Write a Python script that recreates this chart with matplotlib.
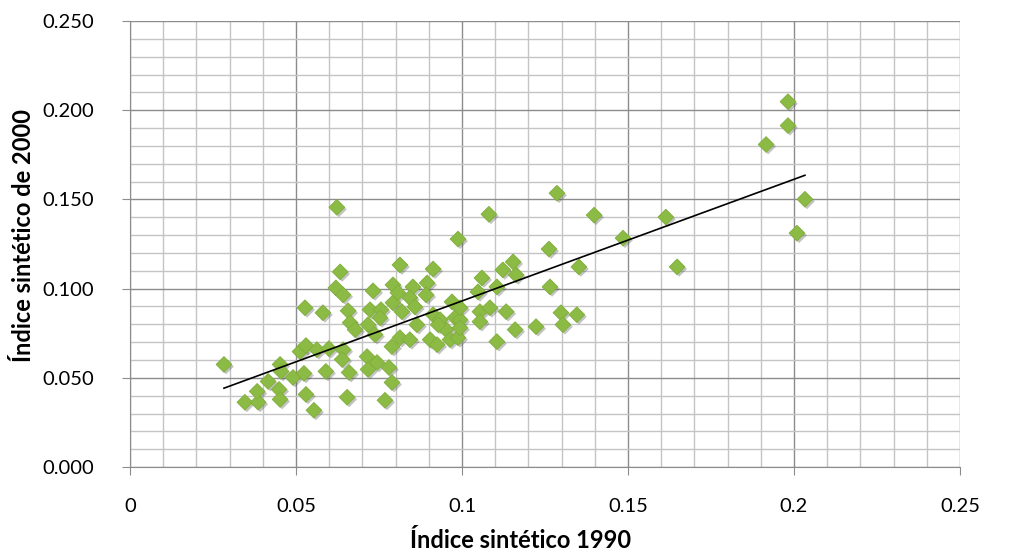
import numpy as np
import matplotlib
matplotlib.use("Agg")
import matplotlib.pyplot as plt
import matplotlib.patheffects as pe
from matplotlib.ticker import MultipleLocator

# indice sintetico por unidad: 1990 (x) frente a 2000 (y)
idx_1990 = [
    0.0283, 0.0346, 0.0386, 0.0383, 0.0416, 0.0449, 0.0452, 0.0452, 0.0455, 0.0491,
    0.0524, 0.0530, 0.0554, 0.0512, 0.0530, 0.0563, 0.0599, 0.0590, 0.0527, 0.0581,
    0.0620, 0.0642, 0.0639, 0.0654, 0.0633, 0.0813, 0.0913, 0.0732, 0.0792, 0.0852,
    0.0895, 0.0892, 0.0642, 0.0657, 0.0723, 0.0756, 0.0792, 0.0819, 0.0843, 0.0858,
    0.0807, 0.0663, 0.0678, 0.0717, 0.0753, 0.0738, 0.0789, 0.0813, 0.0843, 0.0864,
    0.0904, 0.0925, 0.0913, 0.0934, 0.0952, 0.0970, 0.0979, 0.0994, 0.0964, 0.0988,
    0.0994, 0.0994, 0.1048, 0.1060, 0.1054, 0.1054, 0.1084, 0.1105, 0.1133, 0.1123,
    0.1154, 0.1105, 0.1160, 0.0714, 0.0744, 0.0717, 0.0780, 0.0660, 0.0789, 0.0768,
    0.0928, 0.1286, 0.1081, 0.1398, 0.0988, 0.1485, 0.1262, 0.1163, 0.1352, 0.1265,
    0.1298, 0.1346, 0.1304, 0.1223, 0.1614, 0.1648, 0.2033, 0.2009, 0.1982, 0.1982,
    0.1916, 0.0623,
]
idx_2000 = [
    0.0575, 0.0363, 0.0363, 0.0424, 0.0480, 0.0435, 0.0379, 0.0575, 0.0536, 0.0502,
    0.0525, 0.0407, 0.0318, 0.0647, 0.0681, 0.0658, 0.0664, 0.0536, 0.0893, 0.0865,
    0.1004, 0.0658, 0.0603, 0.0391, 0.1094, 0.1133, 0.1110, 0.0988, 0.1021, 0.1010,
    0.1032, 0.0965, 0.0965, 0.0876, 0.0882, 0.0882, 0.0921, 0.0871, 0.0949, 0.0898,
    0.0977, 0.0809, 0.0770, 0.0798, 0.0837, 0.0742, 0.0675, 0.0725, 0.0714, 0.0798,
    0.0714, 0.0686, 0.0854, 0.0826, 0.0770, 0.0926, 0.0837, 0.0826, 0.0714, 0.0725,
    0.0781, 0.0893, 0.0982, 0.1060, 0.0871, 0.0815, 0.0893, 0.0703, 0.0871, 0.1105,
    0.1150, 0.1010, 0.0770, 0.0619, 0.0586, 0.0547, 0.0558, 0.0530, 0.0474, 0.0374,
    0.0798, 0.1535, 0.1417, 0.1412, 0.1278, 0.1283, 0.1222, 0.1077, 0.1122, 0.1010,
    0.0865, 0.0854, 0.0798, 0.0787, 0.1401, 0.1122, 0.1501, 0.1311, 0.2048, 0.1914,
    0.1808, 0.1456,
]
x_ticks = [0, 0.05, 0.1, 0.15, 0.2, 0.25]
x_tick_labels = ["0", "0.05", "0.1", "0.15", "0.2", "0.25"]
y_ticks = [0, 0.05, 0.10, 0.15, 0.20, 0.25]
y_tick_labels = ["0.000", "0.050", "0.100", "0.150", "0.200", "0.250"]

plt.rcParams['font.family'] = ['Lato', 'DejaVu Sans']

x = np.array(idx_1990)
y = np.array(idx_2000)

fig = plt.figure(figsize=(10.31, 5.54), dpi=100)
ax = fig.add_axes([0.1261, 0.157, 0.805, 0.805])

# rejilla principal y secundaria
ax.xaxis.set_minor_locator(MultipleLocator(0.01))
ax.yaxis.set_minor_locator(MultipleLocator(0.01))
ax.grid(which="major", color="#8c8c8c", lw=1.0)
ax.grid(which="minor", color="#c4c4c4", lw=1.0)
ax.set_axisbelow(True)

ax.scatter(x, y, marker="D", s=64, color="#8cbb45", edgecolors="#7fae3a",
           linewidths=0.6, zorder=3,
           path_effects=[pe.SimplePatchShadow(offset=(1.5, -1.5), alpha=0.35,
                                              shadow_rgbFace="#555555"),
                         pe.Normal()])

# linea de tendencia lineal
m, b = np.polyfit(x, y, 1)
xs = np.array([x.min(), x.max()])
ax.plot(xs, m * xs + b, color="black", lw=1.2, zorder=4)

ax.set_xlim(0, 0.25)
ax.set_ylim(0, 0.25)
ax.set_xticks(x_ticks)
ax.set_xticklabels(x_tick_labels)
ax.set_yticks(y_ticks)
ax.set_yticklabels(y_tick_labels)
ax.tick_params(which="major", length=6, color="#8c8c8c", labelsize=14.5,
               labelcolor="black")
ax.tick_params(which="minor", length=0)
ax.tick_params(axis="x", pad=16)
ax.tick_params(axis="y", pad=20)
for side in ["left", "bottom"]:
    ax.spines[side].set_color("#8c8c8c")
for side in ["top", "right"]:
    ax.spines[side].set_visible(False)

ax.set_xlabel("Índice sintético 1990", fontsize=17, fontweight="bold")
ax.set_ylabel("Índice sintético de 2000", fontsize=17, fontweight="bold")
ax.xaxis.set_label_coords(0.47, -0.138)
ax.yaxis.set_label_coords(-0.115, 0.52)

fig.savefig("out.png", dpi=100)
